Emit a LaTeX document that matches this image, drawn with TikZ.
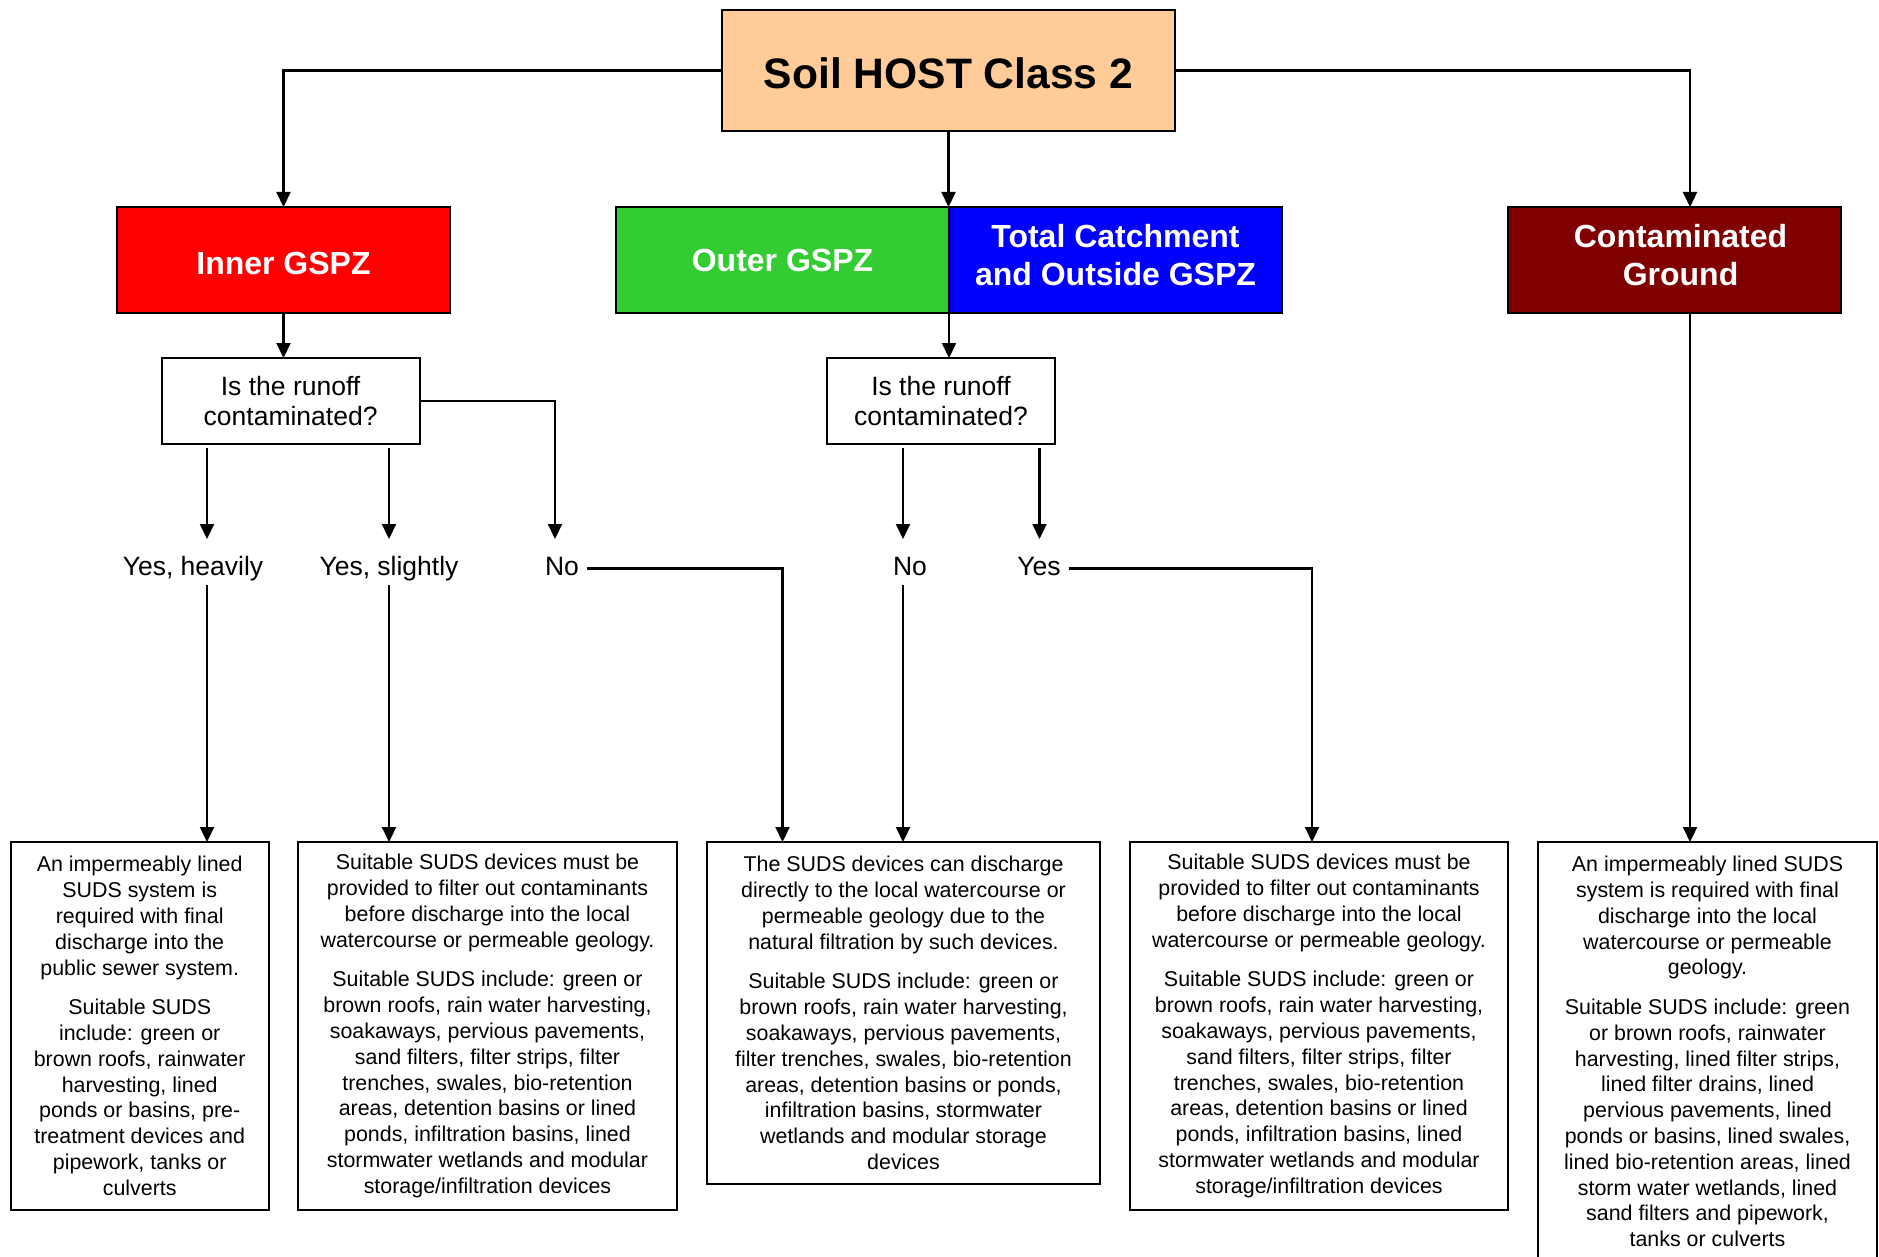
\documentclass[tikz,border=0pt]{standalone}
\usepackage{fontspec}
\setmainfont{Liberation Sans}
\usetikzlibrary{arrows.meta}
\definecolor{peach}{HTML}{FFCC99}
\definecolor{zred}{HTML}{FF0000}
\definecolor{zgreen}{HTML}{33CC33}
\definecolor{zblue}{HTML}{0000FF}
\definecolor{zmaroon}{HTML}{800000}
\begin{document}
\begin{tikzpicture}[x=1pt,y=-1pt,line width=2.2pt,
  arr/.style={-{Triangle[length=15pt,width=14pt]},line width=2.2pt},
  head/.style={draw=black,line width=2pt,anchor=north west,inner sep=0pt,outer sep=0pt,align=center,text=white,minimum width=333pt,minimum height=106pt,font=\fontsize{32}{38.4}\selectfont\bfseries},
  qbox/.style={draw=black,line width=2pt,anchor=north west,inner sep=0pt,outer sep=0pt,align=center,minimum height=86pt,font=\fontsize{26.5}{30}\selectfont},
  lab/.style={anchor=base,inner sep=0pt,outer sep=0pt,text height=19pt,text depth=6pt,font=\fontsize{26.5}{30}\selectfont},
  fbox/.style={draw=black,line width=2pt,anchor=north west,inner sep=0pt,outer sep=0pt,align=center,font=\fontsize{21.4}{25.8}\selectfont}
]
\useasboundingbox (0,0) rectangle (1879,1257);

% top
\node[head,fill=peach,text=black,minimum width=453pt,minimum height=121pt,font=\fontsize{42.6}{50}\selectfont\bfseries] (title) at (722,10) {\rule{0pt}{35.5pt}Soil HOST Class 2};

\node[head,fill=zred] (inner) at (117,207) {\rule{0pt}{29pt}Inner GSPZ};
\node[head,fill=zgreen] (outer) at (616,207) {Outer GSPZ};
\node[head,fill=zblue] (total) at (949,207) {Total Catchment\\and Outside GSPZ\\[-28.4pt]\mbox{}};
\node[head,fill=zmaroon] (contam) at (1508,207) {\hspace*{12pt}Contaminated\\\hspace*{12pt}Ground\\[-28.4pt]\mbox{}};

% questions
\node[qbox,minimum width=258pt] (q1) at (161.6,358) {Is the runoff\\contaminated?};
\node[qbox,minimum width=228pt] (q2) at (827,358) {Is the runoff\\contaminated?};

% labels
\node[lab] (yh) at (193,575) {Yes, heavily};
\node[lab] (ys) at (389,575) {Yes, slightly};
\node[lab] (no1) at (562,575) {No};
\node[lab] (no2) at (910,575) {No};
\node[lab] (yes2) at (1039,575) {Yes};

% x positions of connectors
\coordinate (xa) at (207,0);
\coordinate (xb) at (389,0);
\coordinate (xc) at (555,0);
\coordinate (xd) at (782.5,0);
\coordinate (xe) at (903,0);
\coordinate (xf) at (1039.5,0);
\coordinate (xg) at (1312,0);
\coordinate (xh) at (1690,0);

% final boxes
\node[fbox,minimum width=258pt,minimum height=368pt] (b1) at (10.7,842) {An impermeably lined\\SUDS system is\\required with final\\discharge into the\\public sewer system.\\[13.8pt]Suitable SUDS\\include: green or\\brown roofs, rainwater\\harvesting, lined\\ponds or basins, pre-\\treatment devices and\\pipework, tanks or\\culverts};

\node[fbox,minimum width=379pt,minimum height=368pt] (b2) at (298,842) {Suitable SUDS devices must be\\provided to filter out contaminants\\before discharge into the local\\watercourse or permeable geology.\\[13.8pt]Suitable SUDS include: green or\\brown roofs, rain water harvesting,\\soakaways, pervious pavements,\\sand filters, filter strips, filter\\trenches, swales, bio-retention\\areas, detention basins or lined\\ponds, infiltration basins, lined\\stormwater wetlands and modular\\storage/infiltration devices};

\node[fbox,minimum width=393pt,minimum height=342pt] (b3) at (707,842) {The SUDS devices can discharge\\directly to the local watercourse or\\permeable geology due to the\\natural filtration by such devices.\\[13.8pt]Suitable SUDS include: green or\\brown roofs, rain water harvesting,\\soakaways, pervious pavements,\\filter trenches, swales, bio-retention\\areas, detention basins or ponds,\\infiltration basins, stormwater\\wetlands and modular storage\\devices};

\node[fbox,minimum width=378pt,minimum height=368pt] (b4) at (1130,842) {Suitable SUDS devices must be\\provided to filter out contaminants\\before discharge into the local\\watercourse or permeable geology.\\[13.8pt]Suitable SUDS include: green or\\brown roofs, rain water harvesting,\\soakaways, pervious pavements,\\sand filters, filter strips, filter\\trenches, swales, bio-retention\\areas, detention basins or lined\\ponds, infiltration basins, lined\\stormwater wetlands and modular\\storage/infiltration devices};

\node[fbox,draw=none,minimum width=339pt,minimum height=419pt] (b5) at (1538,842) {An impermeably lined SUDS\\system is required with final\\discharge into the local\\watercourse or permeable\\geology.\\[13.8pt]Suitable SUDS include: green\\or brown roofs, rainwater\\harvesting, lined filter strips,\\lined filter drains, lined\\pervious pavements, lined\\ponds or basins, lined swales,\\lined bio-retention areas, lined\\storm water wetlands, lined\\sand filters and pipework,\\tanks or culverts};
\draw[line width=2pt] (b5.south west) -- (b5.north west) -- (b5.north east) -- (b5.south east);

% connectors
\draw[arr] (title.west) -| (inner.north);
\draw[arr] (title.south) -- (title.south |- outer.north);
\draw[arr] (title.east) -| (contam.north -| xh);
\draw[arr] (inner.south) -- (inner.south |- q1.north);
\draw[arr] (outer.south east) -- (outer.south east |- q2.north);

\draw[arr,shorten <=4pt,shorten >=17pt] (q1.south -| xa) -- (yh.north -| xa);
\draw[arr,shorten <=4pt,shorten >=17pt] (q1.south -| xb) -- (ys.north -| xb);
\draw[arr,shorten >=17pt] (q1.east) -| (no1.north -| xc);
\draw[arr,shorten <=4pt] (yh.south -| xa) -- (b1.north -| xa);
\draw[arr,shorten <=4pt] (ys.south -| xb) -- (b2.north -| xb);
\draw[arr,shorten <=8pt] (no1.east) -| (b3.north -| xd);

\draw[arr,shorten <=4pt,shorten >=17pt] (q2.south -| xe) -- (no2.north -| xe);
\draw[arr,shorten <=4pt,shorten >=17pt] (q2.south -| xf) -- (yes2.north -| xf);
\draw[arr,shorten <=4pt] (no2.south -| xe) -- (b3.north -| xe);
\draw[arr,shorten <=8pt] (yes2.east) -| (b4.north -| xg);

\draw[arr] (contam.south -| xh) -- (b5.north -| xh);
\end{tikzpicture}
\end{document}
